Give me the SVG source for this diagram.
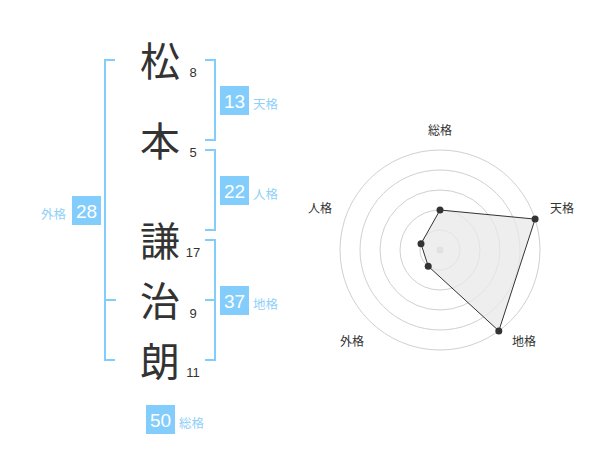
<svg xmlns="http://www.w3.org/2000/svg" width="600" height="470" viewBox="0 0 600 470">
<style>
.br{fill:none;stroke:#82cdf9;stroke-width:2}
.kj{font-family:"Noto Sans CJK JP","Noto Sans",sans-serif;font-size:40px;fill:#333;text-anchor:middle}
.st{font-family:"Liberation Sans",Arial,sans-serif;font-size:13px;fill:#333;text-anchor:middle}
.bx{fill:#82cdfb}
.bn{font-family:"Liberation Sans",Arial,sans-serif;font-size:19px;fill:#fff;text-anchor:middle}
.lb{font-family:"Noto Sans CJK JP",sans-serif;font-size:12.5px;fill:#8fd0f8}
.rl{font-family:"Noto Sans CJK JP",sans-serif;font-size:12px;fill:#333;text-anchor:middle}
.ring{fill:none;stroke:#d0d0d0;stroke-width:1}
.pt{fill:#333}
</style>
<rect width="600" height="470" fill="#fff"/>
<g id="connectors">
<path class="br" d="M115,60 H105 V360 H115 M105,300 H116"/>
<path class="br" d="M205,60 H215 V140 H205"/>
<path class="br" d="M205,150 H215 V230 H205"/>
<path class="br" d="M205,240 H215 V360 H205 M205,300 H215"/>
</g>
<g id="char-matsu"><text class="kj" x="160" y="76">松</text><text class="st" x="193" y="77">8</text></g>
<g id="char-moto"><text class="kj" x="160" y="156">本</text><text class="st" x="193" y="157">5</text></g>
<g id="char-ken"><text class="kj" x="160" y="256">謙</text><text class="st" x="193" y="257">17</text></g>
<g id="char-ji"><text class="kj" x="160" y="316">治</text><text class="st" x="193" y="318">9</text></g>
<g id="char-ro"><text class="kj" x="160" y="376">朗</text><text class="st" x="193" y="377">11</text></g>
<g id="tenkaku"><rect class="bx" x="220" y="86" width="29" height="29"/><text class="bn" x="234.5" y="108">13</text><text class="lb" x="253" y="109">天格</text></g>
<g id="jinkaku"><rect class="bx" x="220" y="176" width="29" height="29"/><text class="bn" x="234.5" y="198">22</text><text class="lb" x="253" y="199">人格</text></g>
<g id="chikaku"><rect class="bx" x="220" y="286" width="29" height="29"/><text class="bn" x="234.5" y="308">37</text><text class="lb" x="253" y="309">地格</text></g>
<g id="gaikaku"><rect class="bx" x="72" y="196" width="29" height="29"/><text class="bn" x="86.5" y="218">28</text><text class="lb" x="66" y="219" text-anchor="end">外格</text></g>
<g id="soukaku"><rect class="bx" x="146" y="405" width="29" height="29"/><text class="bn" x="160.5" y="427">50</text><text class="lb" x="179" y="428">総格</text></g>
<g id="radar">
<circle class="ring" cx="440" cy="250" r="20"/>
<circle class="ring" cx="440" cy="250" r="40"/>
<circle class="ring" cx="440" cy="250" r="60"/>
<circle class="ring" cx="440" cy="250" r="80"/>
<circle class="ring" cx="440" cy="250" r="100"/>
<circle cx="440" cy="250" r="3.5" fill="#ccc"/>
<polygon points="440,210 535.1,219.1 498.8,330.9 428.2,266.2 421,243.8" fill="#e8e8e8" fill-opacity="0.75" stroke="#333" stroke-width="1"/>
<circle class="pt" cx="440" cy="210" r="3.5"/>
<circle class="pt" cx="535.1" cy="219.1" r="3.5"/>
<circle class="pt" cx="498.8" cy="330.9" r="3.5"/>
<circle class="pt" cx="428.2" cy="266.2" r="3.5"/>
<circle class="pt" cx="421" cy="243.8" r="3.5"/>
<text class="rl" x="440" y="135">総格</text>
<text class="rl" x="562" y="213">天格</text>
<text class="rl" x="524" y="346">地格</text>
<text class="rl" x="352" y="346">外格</text>
<text class="rl" x="320" y="213">人格</text>
</g>
</svg>
